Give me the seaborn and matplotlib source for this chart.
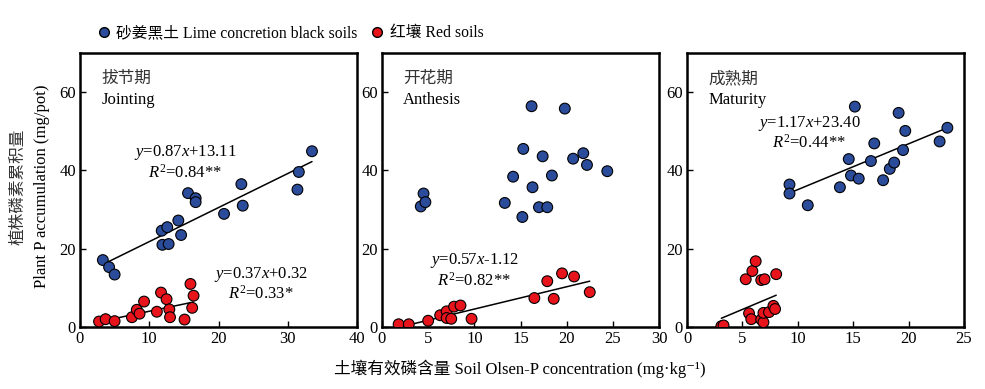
import numpy as np
import pandas as pd
import matplotlib
matplotlib.use("Agg")
import matplotlib.pyplot as plt
from matplotlib.lines import Line2D
import seaborn as sns

# datos
stages_cn = ["拔节期", "开花期", "成熟期"]
stages_en = ["Jointing", "Anthesis", "Maturity"]
x_max = [40, 30, 25]

# Jointing
black_x_j = [3.3, 4.2, 5.0, 11.8, 12.6, 11.9, 12.8, 14.2, 14.6, 15.6, 16.7, 16.7, 20.8, 23.3, 23.5, 31.6, 31.4, 33.5]
black_y_j = [17.1, 15.3, 13.4, 24.6, 25.5, 21.0, 21.2, 27.2, 23.5, 34.2, 32.9, 31.9, 28.9, 36.5, 31.0, 39.6, 35.1, 44.9]
red_x_j = [2.75, 3.7, 5.0, 7.5, 8.2, 8.6, 9.25, 11.1, 11.7, 12.5, 12.9, 13.0, 15.1, 15.95, 16.4, 16.2]
red_y_j = [1.4, 2.0, 1.5, 2.5, 4.4, 3.4, 6.5, 3.9, 8.8, 7.1, 4.5, 2.5, 1.9, 11.0, 8.0, 4.9]

# Anthesis
black_x_a = [4.2, 4.5, 4.7, 13.3, 14.2, 15.2, 15.3, 16.2, 16.3, 17.0, 17.4, 17.9, 18.4, 19.8, 20.7, 21.8, 22.2, 24.4]
black_y_a = [30.8, 34.1, 31.9, 31.7, 38.4, 28.1, 45.5, 56.4, 35.7, 30.6, 43.6, 30.6, 38.7, 55.8, 43.0, 44.4, 41.4, 39.8]
red_x_a = [1.8, 2.9, 5.0, 6.3, 7.0, 7.0, 7.5, 7.8, 8.5, 9.7, 16.5, 17.9, 18.6, 19.5, 20.8, 22.5]
red_y_a = [0.7, 0.7, 1.6, 3.0, 4.0, 2.3, 2.1, 5.2, 5.5, 2.1, 7.4, 11.7, 7.2, 13.7, 12.9, 8.9]

# Maturity
black_x_m = [9.25, 9.25, 10.9, 13.8, 14.6, 14.8, 15.15, 15.5, 16.6, 16.9, 17.7, 18.3, 18.7, 19.1, 19.5, 19.7, 22.8, 23.5]
black_y_m = [36.4, 34.1, 31.1, 35.7, 42.9, 38.7, 56.3, 37.9, 42.4, 46.9, 37.5, 40.4, 42.0, 54.7, 45.2, 50.1, 47.4, 50.9]
red_x_m = [3.1, 3.3, 5.3, 5.6, 5.8, 5.9, 6.2, 6.7, 7.0, 6.7, 6.9, 6.9, 7.4, 7.8, 7.95, 8.05]
red_y_m = [0.2, 0.4, 12.2, 3.5, 2.0, 14.3, 16.8, 12.0, 12.2, 1.9, 1.2, 3.6, 3.8, 5.4, 4.6, 13.5]

# rectas de ajuste (pendiente, ordenada); None = sin recta
fits_black = [(0.87, 13.11), None, (1.17, 23.40)]
fits_red = [(0.37, 0.32), (0.57, -1.12), (1.19, -1.46)]
eq_black = ["$y$=0.87$x$+13.11\n$R^2$=0.84**", None, "$y$=1.17$x$+23.40\n$R^2$=0.44**"]
eq_red = ["$y$=0.37$x$+0.32\n$R^2$=0.33*", "$y$=0.57$x$-1.12\n$R^2$=0.82**", None]
eq_black_pos = [(15.2, 42.0), None, (11.0, 49.6)]
eq_red_pos = [(26.1, 11.0), (10.0, 14.4), None]

soils = ["砂姜黑土 Lime concretion black soils", "红壤 Red soils"]
colors = {soils[0]: "#2B4C9B", soils[1]: "#E8141C"}

frames = []
for i, (bx, by, rx, ry) in enumerate([(black_x_j, black_y_j, red_x_j, red_y_j),
                                       (black_x_a, black_y_a, red_x_a, red_y_a),
                                       (black_x_m, black_y_m, red_x_m, red_y_m)]):
    frames.append(pd.DataFrame({"stage": i, "soil": soils[0], "x": bx, "y": by}))
    frames.append(pd.DataFrame({"stage": i, "soil": soils[1], "x": rx, "y": ry}))
df = pd.concat(frames, ignore_index=True)

sns.set_style("ticks", {"axes.edgecolor": "black", "xtick.color": "black",
                        "ytick.color": "black", "text.color": "black"})
plt.rcParams["font.family"] = ["Liberation Serif", "Noto Sans CJK SC", "DejaVu Serif"]
plt.rcParams["mathtext.fontset"] = "custom"
plt.rcParams["mathtext.rm"] = "Liberation Serif"
plt.rcParams["mathtext.it"] = "Liberation Serif:italic"

fs = 12
fig = plt.figure(figsize=(9.85, 3.89), dpi=100)
lefts = [80 / 985, 382 / 985, 687 / 985]
axes = [fig.add_axes([l, 62 / 389, 277 / 985, 274 / 389]) for l in lefts]

for i, ax in enumerate(axes):
    d = df[df["stage"] == i]
    sns.scatterplot(data=d, x="x", y="y", hue="soil", palette=colors, s=60,
                    edgecolor="black", linewidth=0.8, legend=False, ax=ax, zorder=3)
    for fit, soil in [(fits_black[i], soils[0]), (fits_red[i], soils[1])]:
        if fit is None:
            continue
        xs = d[d["soil"] == soil]["x"]
        xx = np.array([xs.min(), xs.max()])
        ax.plot(xx, fit[0] * xx + fit[1], color="black", lw=1.1, zorder=2)
    for eq, pos in [(eq_black[i], eq_black_pos[i]), (eq_red[i], eq_red_pos[i])]:
        if eq is not None:
            ax.text(pos[0], pos[1], eq, ha="center", va="center", fontsize=fs,
                    linespacing=1.1)
    ax.text(0.077, 0.905, stages_cn[i], transform=ax.transAxes, fontsize=fs,
            va="center", ha="left", color="#333333")
    ax.text(0.077, 0.828, stages_en[i], transform=ax.transAxes, fontsize=fs,
            va="center", ha="left")
    ax.set_xlim(0, x_max[i])
    ax.set_ylim(0, 70)
    ax.set_xticks(range(0, x_max[i] + 1, 5 if x_max[i] < 40 else 10))
    ax.set_yticks([0, 20, 40, 60])
    ax.set_xlabel("")
    ax.set_ylabel("")
    ax.tick_params(direction="in", length=4, width=1, labelsize=fs, pad=3,
                   colors="black")
    for sp in ax.spines.values():
        sp.set_visible(True)
        sp.set_linewidth(1.8)
        sp.set_color("black")

fig.text(18 / 985, 0.5 + 0.02, "植株磷素累积量", rotation=90, ha="center", va="center",
         fontsize=fs, color="#333333")
fig.text(42 / 985, 0.5 + 0.02, "Plant P accumulation (mg/pot)", rotation=90,
         ha="center", va="center", fontsize=fs)
fig.text(520 / 985, 1 - 369 / 389, "土壤有效磷含量 Soil Olsen-P concentration (mg·kg⁻¹)",
         ha="center", va="center", fontsize=fs)

handles = [Line2D([], [], marker="o", ls="", markerfacecolor=colors[s],
                  markeredgecolor="black", markersize=7, label=s) for s in soils]
fig.legend(handles=handles, loc="center left", bbox_to_anchor=(96 / 985, 1 - 33 / 389),
           ncol=2, frameon=False, fontsize=11.3, handlelength=1.0, handletextpad=0.3,
           columnspacing=0.75, borderaxespad=0, borderpad=0)

fig.savefig("out.png", dpi=100)
